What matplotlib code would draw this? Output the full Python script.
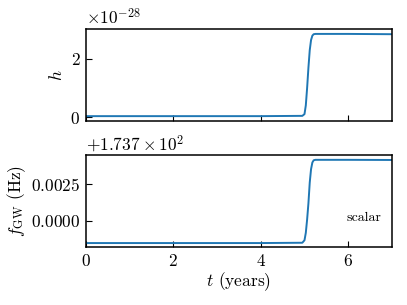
import numpy as np
import matplotlib
matplotlib.use('Agg')
import matplotlib.pyplot as plt

plt.rcParams['font.family'] = 'serif'
plt.rcParams['font.serif'] = ['cmr10']
plt.rcParams['mathtext.fontset'] = 'cm'
plt.rcParams['axes.formatter.use_mathtext'] = True
plt.rcParams['axes.unicode_minus'] = False
plt.rcParams['font.size'] = 12.5

# values
t_years = [0.0, 2.0, 4.0, 4.95, 5.0, 5.03, 5.06, 5.09, 5.12, 5.15, 5.18, 5.21, 5.25, 5.3, 6.0, 7.0]
h_strain = [0.03, 0.03, 0.03, 0.04, 0.10, 0.40, 1.00, 1.70, 2.30, 2.65, 2.80, 2.85, 2.86, 2.86, 2.86, 2.85]  # x1e-28
f_gw = [173.69851, 173.69851, 173.69851, 173.69853, 173.69870, 173.69920, 173.70010, 173.70120,
        173.70260, 173.70350, 173.70395, 173.70410, 173.70413, 173.70413, 173.70413, 173.70412]

h_ticks = [0, 2]
f_ticks = [173.7, 173.7025]
x_ticks = [0, 2, 4, 6]

fig = plt.figure(figsize=(4.07, 3.05), dpi=100)
ax1 = fig.add_axes([0.211, 0.603, 0.752, 0.302])
ax2 = fig.add_axes([0.211, 0.190, 0.752, 0.302])

ax1.plot(t_years, np.array(h_strain) * 1e-28, color='C0', lw=1.4)
ax2.plot(t_years, f_gw, color='C0', lw=1.4)

for ax in (ax1, ax2):
    ax.set_xlim(0, 7)
    ax.set_xticks(x_ticks)
    ax.tick_params(direction='in', length=4, width=0.8, pad=4)
    for s in ax.spines.values():
        s.set_linewidth(1.1)

ax1.set_ylim(-0.14e-28, 3.03e-28)
ax1.set_yticks([v * 1e-28 for v in h_ticks])
ax1.set_xticklabels([])
ax1.set_ylabel('$h$')
ax1.yaxis.get_offset_text().set_fontsize(12.5)

ax2.set_ylim(173.7 - 0.00176, 173.7 + 0.00446)
ax2.set_yticks(f_ticks)
ax2.ticklabel_format(axis='y', useOffset=173.7)
ax2.yaxis.get_offset_text().set_fontsize(12.5)
ax2.set_ylabel(r'$f_{\rm GW}$ (Hz)', labelpad=2)
ax2.set_xlabel('$t$ (years)', labelpad=1)
ax2.text(0.91, 0.32, 'scalar', transform=ax2.transAxes, ha='center', va='center', fontsize=10)

fig.savefig('out.png', dpi=100)
